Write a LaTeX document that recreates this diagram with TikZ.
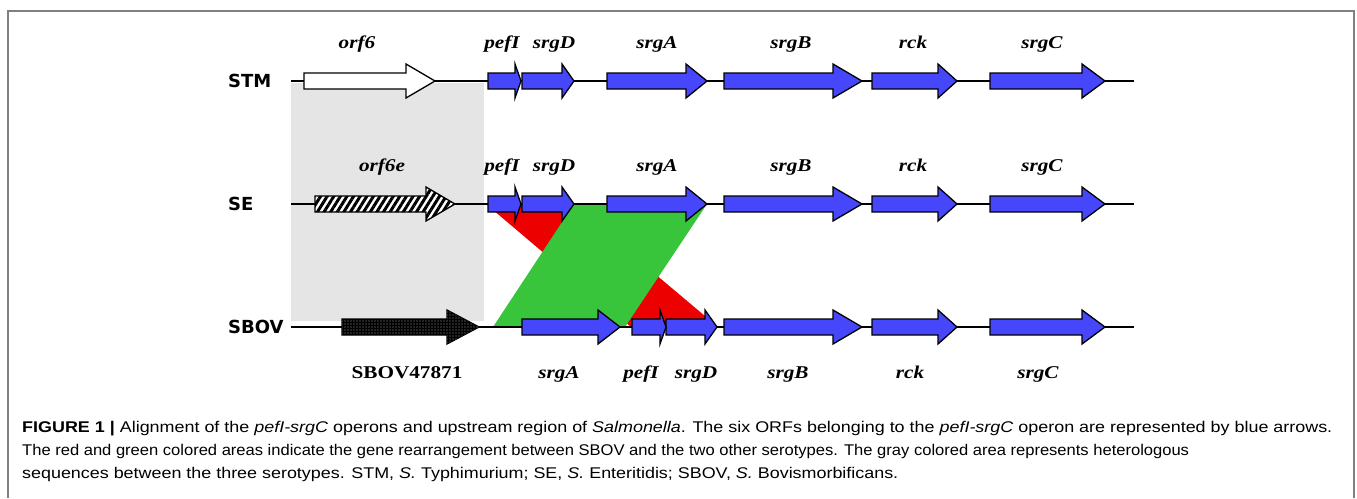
\documentclass[tikz,border=0pt]{standalone}
\usepackage{fontspec}
\usepackage{graphicx}
\usetikzlibrary{patterns.meta}
\setmainfont{Liberation Serif}
\newfontfamily\genefont[FakeStretch=1.18]{Liberation Serif}
\newfontfamily\rowfont{DejaVu Sans}
\newfontfamily\capfont{Liberation Sans}
\definecolor{geneblue}{RGB}{70,70,250}
\definecolor{rearred}{RGB}{237,0,0}
\definecolor{reargreen}{RGB}{57,197,59}
\definecolor{hetgray}{RGB}{229,229,229}
\definecolor{framegray}{RGB}{128,128,128}
\newcommand\figcapA{\textbf{FIGURE 1 |} Alignment of the \textit{pefI-srgC} operons and upstream region of \textit{Salmonella}. The six ORFs belonging to the \textit{pefI-srgC} operon are represented by blue arrows.}
\newcommand\figcapB{The red and green colored areas indicate the gene rearrangement between SBOV and the two other serotypes. The gray colored area represents heterologous}
\newcommand\figcapC{sequences between the three serotypes. STM, \textit{S.} Typhimurium; SE, \textit{S.} Enteritidis; SBOV, \textit{S.} Bovismorbificans.}
\newcommand\capsize{\capfont\fontsize{15.5}{18}\selectfont}
% gene arrow: #1 start, #2 head start, #3 tip, #4 y, #5 style
\newcommand\genearrow[5]{%
  \draw[#5] ({#1},{#4-8}) -- ({#2},{#4-8}) -- ({#2},{#4-17}) -- ({#3},{#4})
    -- ({#2},{#4+17}) -- ({#2},{#4+8}) -- ({#1},{#4+8}) -- cycle;}
\tikzset{
  backbone/.style={line width=1.6pt, black},
  bluegene/.style={draw=black, line width=1.3pt, fill=geneblue, line join=miter},
  whitegene/.style={draw=black, line width=1.3pt, fill=white},
  hatchgene/.style={draw=black, line width=1.3pt, fill=white,
     postaction={pattern={Lines[angle=58,distance=5.6pt,line width=3pt]}, pattern color=black}},
  dotgene/.style={draw=black, line width=1.3pt, fill=black,
     postaction={pattern={Dots[radius=0.7pt,distance=3pt]}, pattern color=white!60!black}},
  genelab/.style={anchor=base, inner sep=0pt, font=\genefont\fontsize{18}{20}\selectfont\bfseries\itshape},
  strainlab/.style={anchor=base, inner sep=0pt, font=\genefont\fontsize{18}{20}\selectfont\bfseries},
  rowlab/.style={anchor=base west, inner sep=0pt, font=\rowfont\fontsize{18}{20}\selectfont\bfseries},
  caplab/.style={anchor=base west, inner sep=0pt},
}
\begin{document}
\begin{tikzpicture}[x=1pt,y=-1pt]
\useasboundingbox (0,0) rectangle (1357,498);
% frame
\draw[framegray, line width=1.5pt] (8,498) -- (8,11) -- (1354,11) -- (1354,498);
% heterologous region
\fill[hetgray] (291,83) rectangle (484,321);
% rearrangement areas
\fill[rearred] (486,204) -- (572,204) -- (718,327) -- (631,327) -- cycle;
\fill[reargreen] (574,204) -- (707,204) -- (625,327) -- (493,327) -- cycle;
% backbones
\draw[backbone] (291,81) -- (1134,81);
\draw[backbone] (291,204) -- (1134,204);
\draw[backbone] (291,327) -- (1134,327);
% STM genes
\genearrow{304}{406}{435}{81}{whitegene}
\genearrow{522}{562}{574}{81}{bluegene}
\genearrow{488}{515}{521}{81}{bluegene}
\genearrow{607}{686}{707}{81}{bluegene}
\genearrow{724}{833}{862}{81}{bluegene}
\genearrow{872}{938}{957}{81}{bluegene}
\genearrow{990}{1082}{1105}{81}{bluegene}
% SE genes
\genearrow{315}{426}{455}{204}{hatchgene}
\genearrow{522}{562}{574}{204}{bluegene}
\genearrow{488}{515}{521}{204}{bluegene}
\genearrow{607}{686}{707}{204}{bluegene}
\genearrow{724}{833}{862}{204}{bluegene}
\genearrow{872}{938}{957}{204}{bluegene}
\genearrow{990}{1082}{1105}{204}{bluegene}
% SBOV genes
\genearrow{342}{447}{479}{327}{dotgene}
\genearrow{522}{598}{620}{327}{bluegene}
\genearrow{666}{705}{717}{327}{bluegene}
\genearrow{632}{660}{666}{327}{bluegene}
\genearrow{724}{833}{862}{327}{bluegene}
\genearrow{872}{938}{957}{327}{bluegene}
\genearrow{990}{1082}{1105}{327}{bluegene}
% row labels
\node[rowlab] (stm) at (228,87.5) {STM};
\node[rowlab] (se) at (228,210.5) {SE};
\node[rowlab] (sbov) at (228,333.5) {SBOV};
% STM labels
\node[genelab] (stm-orf6) at (357,48) {orf6};
\node[genelab] (stm-pefI) at (502,48) {pefI};
\node[genelab] (stm-srgD) at (554,48) {srgD};
\node[genelab] (stm-srgA) at (657,48) {srgA};
\node[genelab] (stm-srgB) at (791,48) {srgB};
\node[genelab] (stm-rck) at (913,48) {rck};
\node[genelab] (stm-srgC) at (1042,48) {srgC};
% SE labels
\node[genelab] (se-orf6e) at (382,171) {orf6e};
\node[genelab] (se-pefI) at (502,171) {pefI};
\node[genelab] (se-srgD) at (554,171) {srgD};
\node[genelab] (se-srgA) at (657,171) {srgA};
\node[genelab] (se-srgB) at (791,171) {srgB};
\node[genelab] (se-rck) at (913,171) {rck};
\node[genelab] (se-srgC) at (1042,171) {srgC};
% SBOV labels
\node[strainlab] (sbov-orf) at (407,378) {SBOV47871};
\node[genelab] (sbov-srgA) at (559,378) {srgA};
\node[genelab] (sbov-pefI) at (641,378) {pefI};
\node[genelab] (sbov-srgD) at (696,378) {srgD};
\node[genelab] (sbov-srgB) at (788,378) {srgB};
\node[genelab] (sbov-rck) at (910,378) {rck};
\node[genelab] (sbov-srgC) at (1038,378) {srgC};
% caption
\node[caplab] (cap1) at (22,432) {\resizebox{1310pt}{\height}{\capsize\figcapA}};
\node[caplab] (cap2) at (22,455) {\resizebox{1167pt}{\height}{\capsize\figcapB}};
\node[caplab] (cap3) at (22,478) {\resizebox{876pt}{\height}{\capsize\figcapC}};
\end{tikzpicture}
\end{document}
